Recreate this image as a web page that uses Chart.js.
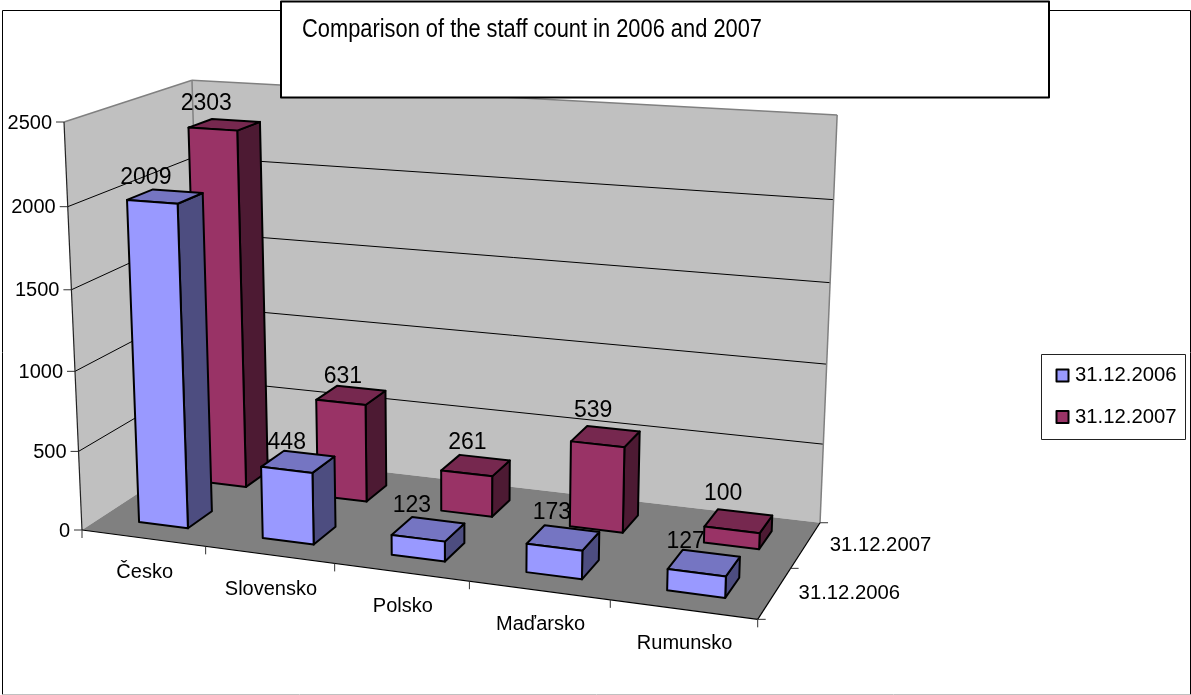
<!DOCTYPE html>
<html lang="en">
<head>
  <meta charset="UTF-8">
  <title>Comparison of the staff count</title>
  <script src="https://cdn.jsdelivr.net/npm/chart.js"></script>
  <style>
    html, body { margin: 0; padding: 0; background: #fff; overflow: hidden; }
    canvas { display: block; }
  </style>
</head>
<body>
  <canvas id="staffChart" width="1191" height="695"></canvas>

  <script>
    const chartTitle = 'Comparison of the staff count in 2006 and 2007';
    const countries = ['Česko', 'Slovensko', 'Polsko', 'Maďarsko', 'Rumunsko'];
    const seriesNames = ['31.12.2006', '31.12.2007'];
    const staff2006 = [2009, 448, 123, 173, 127];
    const staff2007 = [2303, 631, 261, 539, 100];
    const yTicks = { min: 0, max: 2500, step: 500 };

    // the 3d box: floor corners, top of the left edge, vanishing points
    const A = { x: 82, y: 530 }, B = { x: 757.7, y: 619.3 }, D = { x: 203, y: 451 }, F = { x: 64, y: 122 };
    const Vx = { x: -5734, y: -239 }, Vy = { x: 460, y: 9100 }, Vz = { x: 1349, y: -297 };
    const kx = (B.x - A.x) / (Vx.x - B.x);
    const ky = (F.y - A.y) / (Vy.y - F.y);
    const kz = (D.x - A.x) / (Vz.x - D.x);

    // u along categories, v up the value axis, w into the depth, all 0..1
    function project(u, v, w) {
      const d = 1 + u * kx + v * ky + w * kz;
      return {
        x: (A.x + u * kx * Vx.x + v * ky * Vy.x + w * kz * Vz.x) / d,
        y: (A.y + u * kx * Vx.y + v * ky * Vy.y + w * kz * Vz.y) / d
      };
    }

    const colors = [
      { front: '#9999FF', top: '#7575C2', side: '#4D4D80' },
      { front: '#993366', top: '#76284F', side: '#4D1A33' }
    ];

    // hand nudges for the data labels, relative to the middle of each bar top
    const labelNudge = [
      [[-18, -12], [-10, -13], [-15, -17], [-10, -19], [-17, -15]],
      [[-17, -15], [-7, -12], [-7, -16], [-11, -19], [-14, -21]]
    ];
    const barShift = 0.002; // the bars sit a touch right of the tick centres

    function poly(ctx, pts, fill, stroke, lw) {
      ctx.beginPath();
      pts.forEach((p, i) => i ? ctx.lineTo(p.x, p.y) : ctx.moveTo(p.x, p.y));
      ctx.closePath();
      if (fill) { ctx.fillStyle = fill; ctx.fill(); }
      if (stroke) { ctx.strokeStyle = stroke; ctx.lineWidth = lw; ctx.lineJoin = 'round'; ctx.stroke(); }
    }

    function line(ctx, a, b, color, lw) {
      ctx.beginPath();
      ctx.moveTo(a.x, a.y);
      ctx.lineTo(b.x, b.y);
      ctx.strokeStyle = color;
      ctx.lineWidth = lw;
      ctx.stroke();
    }

    function text(ctx, str, x, y, size, align) {
      ctx.font = size + 'px "Liberation Sans", Arial, sans-serif';
      ctx.textAlign = align || 'left';
      ctx.textBaseline = 'alphabetic';
      ctx.fillStyle = '#000';
      ctx.fillText(str, x, y);
    }

    const box3d = {
      id: 'box3d',
      beforeDatasetsDraw(chart) {
        const ctx = chart.ctx;
        const xs = chart.scales.x, ys = chart.scales.y;
        const toU = px => (px - xs.left) / xs.width;
        const toV = px => (ys.bottom - px) / ys.height;
        const n = chart.data.labels.length;
        const depth = chart.data.datasets.length;

        ctx.save();

        // page frame
        line(ctx, { x: 2.5, y: 10.5 }, { x: 1190.5, y: 10.5 }, '#000', 1);
        line(ctx, { x: 2.5, y: 10.5 }, { x: 2.5, y: 694.5 }, '#000', 1);
        line(ctx, { x: 1190.5, y: 10.5 }, { x: 1190.5, y: 694.5 }, '#000', 1);
        line(ctx, { x: 2.5, y: 694.5 }, { x: 1190.5, y: 694.5 }, '#C0C0C0', 1);

        // walls and floor
        poly(ctx, [project(0, 0, 0), project(0, 1, 0), project(0, 1, 1), project(0, 0, 1)], '#C0C0C0');
        poly(ctx, [project(0, 0, 1), project(0, 1, 1), project(1, 1, 1), project(1, 0, 1)], '#C0C0C0');
        poly(ctx, [project(0, 0, 0), project(1, 0, 0), project(1, 0, 1), project(0, 0, 1)], '#808080');

        // value gridlines and tick labels come from the y scale
        ys.ticks.forEach(t => {
          const v = toV(ys.getPixelForValue(t.value));
          const p = project(0, v, 0);
          if (t.value > yTicks.min && t.value < yTicks.max) {
            line(ctx, p, project(0, v, 1), '#000', 1);
            line(ctx, project(0, v, 1), project(1, v, 1), '#000', 1);
          }
          line(ctx, { x: p.x - 8, y: p.y }, p, '#333', 1);
          text(ctx, String(t.value), p.x - 12, p.y + 6.5, 20, 'right');
        });

        // wall edges
        line(ctx, project(0, 1, 0), project(0, 1, 1), '#808080', 1.5);
        line(ctx, project(0, 1, 1), project(1, 1, 1), '#808080', 1.5);
        line(ctx, project(1, 1, 1), project(1, 0, 1), '#808080', 1.5);
        line(ctx, project(0, 1, 1), project(0, 0, 1), '#808080', 1.5);
        line(ctx, project(0, 1, 0), project(0, 0, 0), '#222', 1.2);
        line(ctx, project(0, 0, 0), project(1, 0, 0), '#000', 1.2);
        line(ctx, project(1, 0, 0), project(1, 0, 1), '#000', 1.2);

        // category ticks and labels
        for (let i = 0; i <= n; i++) {
          const p = project(i / n, 0, 0);
          line(ctx, p, { x: p.x, y: p.y + 8 }, '#333', 1);
        }
        chart.data.labels.forEach((label, i) => {
          const p = project(toU(xs.getPixelForValue(i)), 0, 0);
          text(ctx, label, p.x + 1.5, p.y + 40, 20, 'center');
        });

        // depth ticks and labels
        for (let i = 0; i <= depth; i++) {
          const p = project(1, 0, i / depth);
          line(ctx, p, { x: p.x + 8, y: p.y }, '#333', 1);
        }
        chart.data.datasets.forEach((ds, i) => {
          const p = project(1, 0, (i + 0.5) / depth);
          text(ctx, ds.label, p.x + 24, p.y + 6, 20.3);
        });

        // data labels sit under the bars, the bars clip 173 and 127
        chart.data.datasets.forEach((ds, i) => {
          chart.getDatasetMeta(i).data.forEach((bar, j) => {
            const c = project(toU(bar.x), toV(bar.y), (i + 0.5) / depth);
            const nudge = labelNudge[i][j];
            text(ctx, String(ds.data[j]), c.x + nudge[0], c.y + nudge[1], 23, 'center');
          });
        });

        // bars, back row first
        for (let i = depth - 1; i >= 0; i--) {
          const w1 = (i + 0.3) / depth, w2 = (i + 0.7) / depth;
          const col = colors[i];
          const bars = chart.getDatasetMeta(i).data;
          for (let j = bars.length - 1; j >= 0; j--) {
            const bar = bars[j];
            const u1 = toU(bar.x - bar.width / 2) + barShift, u2 = toU(bar.x + bar.width / 2) + barShift;
            const v = toV(bar.y);
            poly(ctx, [project(u2, 0, w1), project(u2, v, w1), project(u2, v, w2), project(u2, 0, w2)], col.side, '#000', 2);
            poly(ctx, [project(u1, v, w1), project(u2, v, w1), project(u2, v, w2), project(u1, v, w2)], col.top, '#000', 2);
            poly(ctx, [project(u1, 0, w1), project(u2, 0, w1), project(u2, v, w1), project(u1, v, w1)], col.front, '#000', 2);
          }
        }

        // legend
        ctx.strokeStyle = '#222';
        ctx.lineWidth = 1;
        ctx.strokeRect(1041.5, 354.5, 144, 85);
        chart.data.datasets.forEach((ds, i) => {
          const top = 369.5 + i * 41.5;
          ctx.fillStyle = colors[i].front;
          ctx.fillRect(1056.5, top, 12, 12);
          ctx.strokeStyle = '#000';
          ctx.lineWidth = 2;
          ctx.strokeRect(1056.5, top, 12, 12);
          text(ctx, ds.label, 1075, 381 + i * 41.7, 20.3);
        });

        // title box
        ctx.fillStyle = '#fff';
        ctx.fillRect(281, 1.5, 768, 96);
        ctx.strokeStyle = '#000';
        ctx.lineWidth = 2;
        ctx.strokeRect(281, 1.5, 768, 96);
        ctx.font = '25px "Liberation Sans", Arial, sans-serif';
        ctx.textAlign = 'left';
        ctx.fillStyle = '#000';
        ctx.fillText(chartTitle, 302, 37, 460);

        ctx.restore();
        return false;
      }
    };

    new Chart(document.getElementById('staffChart'), {
      type: 'bar',
      data: {
        labels: countries,
        datasets: [
          { label: seriesNames[0], data: staff2006, backgroundColor: colors[0].front },
          { label: seriesNames[1], data: staff2007, backgroundColor: colors[1].front }
        ]
      },
      options: {
        responsive: false,
        animation: false,
        layout: { padding: 0 },
        datasets: { bar: { grouped: false, barPercentage: 0.4, categoryPercentage: 1 } },
        plugins: { legend: { display: false }, title: { display: false }, tooltip: { enabled: false } },
        scales: {
          x: { display: false },
          y: { display: false, min: yTicks.min, max: yTicks.max, ticks: { stepSize: yTicks.step } }
        }
      },
      plugins: [box3d]
    });
  </script>
</body>
</html>
